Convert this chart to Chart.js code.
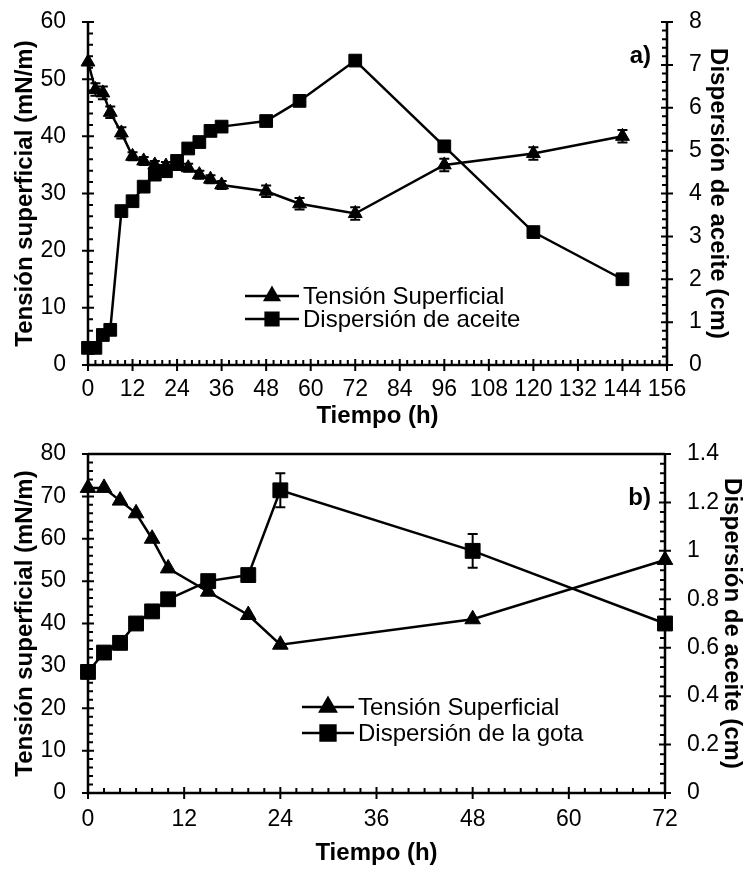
<!DOCTYPE html>
<html>
<head>
<meta charset="utf-8">
<script src="https://cdn.jsdelivr.net/npm/chart.js@4.4.0/dist/chart.umd.min.js"></script>
<style>
  body { margin: 0; background: #fff; }
  #wrap { position: relative; width: 746px; height: 871px; }
  canvas { position: absolute; left: 0; }
  #chartA { top: 0; }
  #chartB { top: 432px; }
</style>
</head>
<body>
<div id="wrap">
  <canvas id="chartA" width="746" height="432"></canvas>
  <canvas id="chartB" width="746" height="439"></canvas>
</div>
<script>
// a) tensión superficial y dispersión de aceite
const timeA = [0, 2, 4, 6, 9, 12, 15, 18, 21, 24, 27, 30, 33, 36, 48, 57, 72, 96, 120, 144];
const tensionA = [53, 48.2, 47.6, 44.2, 40.6, 36.5, 35.7, 35, 34.8, 34.8, 34.5, 33.3, 32.5, 31.5, 30.4, 28.2, 26.5, 35, 37, 40];
const tensionAErr = [0, 1.1, 1.1, 1, 1, 0.7, 0.7, 0.7, 0.7, 0.7, 0.7, 0.7, 0.7, 0.7, 1, 1, 1.1, 1.1, 1.1, 1.1];
const dispA = [0.4, 0.4, 0.7, 0.82, 3.59, 3.82, 4.16, 4.44, 4.52, 4.76, 5.05, 5.2, 5.46, 5.56, 5.69, 6.16, 7.1, 5.1, 3.1, 2.0];

// b) tensión superficial y dispersión de la gota
const timeB = [0, 2, 4, 6, 8, 10, 15, 20, 24, 48, 72];
const tensionB = [72, 72, 69, 66, 60, 53, 47.5, 42, 35, 41, 55];
const dispB = [0.5, 0.58, 0.62, 0.7, 0.75, 0.8, 0.875, 0.9, 1.25, 1.0, 0.7];
const dispBErr = [0, 0, 0, 0, 0, 0, 0.02, 0, 0.07, 0.07, 0];

const FONT = "'Liberation Sans', Arial, Helvetica, sans-serif";
const pts = (xs, ys) => xs.map((x, i) => ({ x: x, y: ys[i] }));

// axis lines with Excel-style ticks: major ones cross the axis, minor ones point inwards
const axisFrame = {
  id: 'axisFrame',
  beforeDatasetsDraw(chart, args, opts) {
    const { ctx, chartArea: a, scales } = chart;
    ctx.save();
    ctx.strokeStyle = '#000';
    ctx.lineWidth = 2.5;
    ctx.beginPath();
    ctx.moveTo(a.left, a.top);
    ctx.lineTo(a.left, a.bottom);
    ctx.lineTo(a.right, a.bottom);
    ctx.lineTo(a.right, a.top);
    if (opts.topLine) {
      ctx.moveTo(a.left, a.top);
      ctx.lineTo(a.right, a.top);
    }
    ctx.stroke();

    ctx.lineWidth = 2;
    const marks = (scale, minor, draw) => {
      const n = Math.round((scale.max - scale.min) / minor);
      const majors = scale.ticks.map(t => t.value);
      for (let i = 0; i <= n; i++) {
        const v = scale.min + i * minor;
        const major = majors.some(m => Math.abs(m - v) < minor / 10);
        draw(scale.getPixelForValue(v), major);
      }
    };
    ctx.beginPath();
    marks(scales.x, opts.minorX, (p, major) => {
      ctx.moveTo(p, a.bottom + (major ? 6 : 0));
      ctx.lineTo(p, a.bottom - (major ? 6 : 5));
    });
    marks(scales.y, opts.minorY, (p, major) => {
      ctx.moveTo(a.left - (major ? 6 : 0), p);
      ctx.lineTo(a.left + (major ? 6 : 5), p);
    });
    marks(scales.y1, opts.minorY1, (p, major) => {
      ctx.moveTo(a.right + (major ? 6 : 0), p);
      ctx.lineTo(a.right - (major ? 6 : 5), p);
    });
    ctx.stroke();
    ctx.restore();
  }
};

// vertical error bars with caps, from each dataset's "errors" array
const errorBars = {
  id: 'errorBars',
  afterDatasetsDraw(chart) {
    const { ctx } = chart;
    ctx.save();
    ctx.strokeStyle = '#000';
    ctx.lineWidth = 2;
    chart.data.datasets.forEach(ds => {
      if (!ds.errors) return;
      const ys = chart.scales[ds.yAxisID];
      const xs = chart.scales.x;
      ds.data.forEach((d, i) => {
        const e = ds.errors[i];
        if (!e) return;
        const px = xs.getPixelForValue(d.x);
        const top = ys.getPixelForValue(d.y + e);
        const bot = ys.getPixelForValue(d.y - e);
        ctx.beginPath();
        ctx.moveTo(px, top); ctx.lineTo(px, bot);
        ctx.moveTo(px - 5, top); ctx.lineTo(px + 5, top);
        ctx.moveTo(px - 5, bot); ctx.lineTo(px + 5, bot);
        ctx.stroke();
      });
    });
    ctx.restore();
  }
};

// legend drawn inside the plot: line sample with the marker in the middle
const insideLegend = {
  id: 'insideLegend',
  afterDraw(chart, args, opts) {
    const { ctx } = chart;
    ctx.save();
    ctx.font = '24px ' + FONT;
    ctx.textBaseline = 'middle';
    ctx.textAlign = 'left';
    chart.data.datasets.forEach((ds, i) => {
      const y = opts.y + i * opts.rowGap;
      ctx.strokeStyle = '#000';
      ctx.fillStyle = '#000';
      ctx.lineWidth = 2.5;
      ctx.beginPath();
      ctx.moveTo(opts.x, y);
      ctx.lineTo(opts.x + opts.len, y);
      ctx.stroke();
      Chart.helpers.drawPoint(ctx, {
        pointStyle: ds.pointStyle, radius: ds.pointRadius, rotation: 0, borderWidth: 1
      }, opts.x + opts.len / 2, y);
      ctx.fillText(ds.label, opts.x + opts.len + 4, y + 1);
    });
    ctx.font = 'bold 24px ' + FONT;
    ctx.textAlign = 'right';
    ctx.fillText(opts.panel, opts.panelX, opts.panelY);
    ctx.restore();
  }
};

function lineSet(label, data, axis, style, r) {
  return {
    label: label, data: data, yAxisID: axis, showLine: true,
    borderColor: '#000', backgroundColor: '#000', borderWidth: 2.5,
    pointStyle: style, pointRadius: r, pointHoverRadius: r,
    pointBackgroundColor: '#000', pointBorderColor: '#000', pointBorderWidth: 1,
    clip: false
  };
}

function tickFont() { return { family: FONT, size: 23 }; }
function titleFont() { return { family: FONT, size: 24, weight: 'bold' }; }
// invisible tick marks only used to keep the labels clear of the axis line
function gap(len) {
  return { display: true, drawOnChartArea: false, drawTicks: true, tickLength: len, color: 'rgba(0,0,0,0)' };
}

function makeChart(id, cfg) {
  return new Chart(document.getElementById(id), {
    type: 'scatter',
    data: { datasets: cfg.datasets },
    options: {
      responsive: false,
      animation: false,
      layout: { padding: { top: 22, left: 0, right: 0, bottom: 0 } },
      plugins: {
        legend: { display: false },
        tooltip: { enabled: false },
        axisFrame: cfg.frame,
        insideLegend: cfg.legend
      },
      scales: {
        x: {
          type: 'linear', min: 0, max: cfg.xMax,
          grid: gap(cfg.xPad), border: { display: false },
          ticks: { stepSize: 12, color: '#000', font: tickFont(), padding: 0, maxRotation: 0, autoSkip: false },
          title: { display: true, text: 'Tiempo (h)', color: '#000', font: titleFont(), padding: { top: 0, bottom: cfg.xTitlePad } },
          afterFit: s => { s.height = cfg.xHeight; }
        },
        y: {
          position: 'left', min: 0, max: cfg.yMax,
          grid: gap(22), border: { display: false },
          ticks: { stepSize: 10, color: '#000', font: tickFont(), padding: 0 },
          title: { display: true, text: 'Tensión superficial (mN/m)', color: '#000', font: titleFont(), padding: { top: 11, bottom: 0 } },
          afterFit: s => { s.width = 88; }
        },
        y1: {
          position: 'right', min: 0, max: cfg.y1Max,
          grid: gap(22), border: { display: false },
          ticks: {
            stepSize: cfg.y1Step, color: '#000', font: tickFont(), padding: 0,
            callback: v => String(Number(v.toFixed(2)))
          },
          title: { display: true, text: 'Dispersión de aceite (cm)', color: '#000', font: titleFont(), padding: { top: cfg.y1TitlePad, bottom: 0 } },
          afterFit: s => { s.width = cfg.y1Width; }
        }
      }
    },
    plugins: [axisFrame, errorBars, insideLegend]
  });
}

const tensA = lineSet('Tensión Superficial', pts(timeA, tensionA), 'y', 'triangle', 8);
tensA.errors = tensionAErr;
makeChart('chartA', {
  datasets: [tensA, lineSet('Dispersión de aceite', pts(timeA, dispA), 'y1', 'rect', 9)],
  xMax: 156, yMax: 60, y1Max: 8, y1Step: 1,
  xPad: 11, xTitlePad: 1, xHeight: 67,
  y1Width: 79, y1TitlePad: 14,
  frame: { minorX: 2, minorY: 2, minorY1: 0.2, topLine: false },
  legend: { x: 245, y: 296, rowGap: 23, len: 54, panel: 'a)', panelX: 651, panelY: 56 }
});

const dispBSet = lineSet('Dispersión de la gota', pts(timeB, dispB), 'y1', 'rect', 10.5);
dispBSet.errors = dispBErr;
makeChart('chartB', {
  datasets: [lineSet('Tensión Superficial', pts(timeB, tensionB), 'y', 'triangle', 9), dispBSet],
  xMax: 72, yMax: 80, y1Max: 1.4, y1Step: 0.2,
  xPad: 13, xTitlePad: 3, xHeight: 78,
  y1Width: 81, y1TitlePad: 0,
  frame: { minorX: 2, minorY: 2, minorY1: 0.04, topLine: true },
  legend: { x: 302, y: 275, rowGap: 26, len: 52, panel: 'b)', panelX: 651, panelY: 66 }
});
</script>
</body>
</html>
